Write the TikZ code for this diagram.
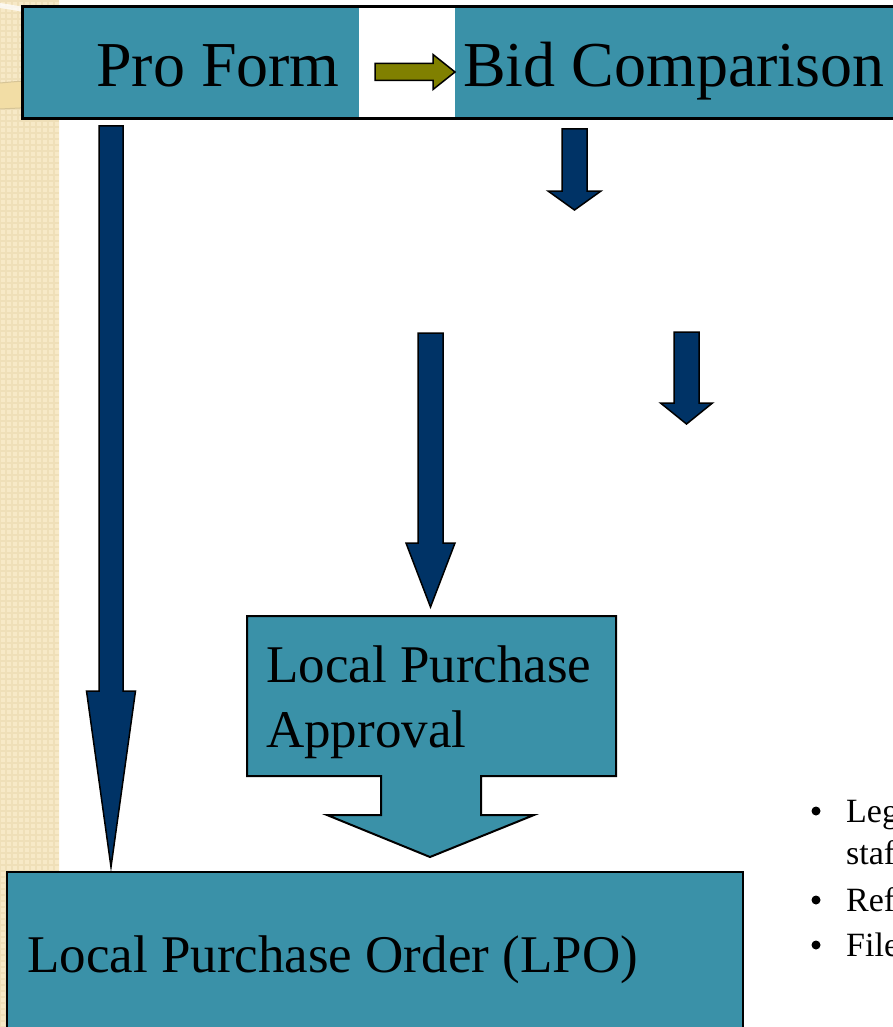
\documentclass[tikz,border=0pt]{standalone}
\usepackage{fontspec}
\setmainfont{Liberation Serif}
\usetikzlibrary{calc, patterns.meta}

\definecolor{tealbox}{RGB}{58,145,168}
\definecolor{navyarrow}{RGB}{0,51,102}
\definecolor{olivearrow}{RGB}{128,128,0}
\definecolor{stripbeige}{RGB}{247,233,199}
\definecolor{stripcheck}{RGB}{239,223,184}
\definecolor{bandbeige}{RGB}{242,221,165}
\definecolor{bandline}{RGB}{214,196,150}

\tikzset{
  blockarrow/.style={draw=black, line width=1.5pt, line join=miter, fill=navyarrow},
  bigtext/.style={anchor=base west, inner sep=0pt, font=\fontsize{64}{70}\selectfont},
  midtext/.style={anchor=base west, inner sep=0pt, font=\fontsize{53}{60}\selectfont},
  smalltext/.style={anchor=base west, inner sep=0pt, font=\fontsize{34}{40}\selectfont},
  bulletdot/.style={circle, fill=black, inner sep=0pt, minimum size=9pt},
}

% downward block arrow: start, tip, shaft half width, head half width, head length
\newcommand{\downblock}[5]{%
  \draw[blockarrow] let \p1=(#1), \p2=(#2) in
    (\x1-#3,\y1) -- (\x1+#3,\y1) -- (\x1+#3,\y2+#5) -- (\x1+#4,\y2+#5)
    -- (\x2,\y2) -- (\x1-#4,\y2+#5) -- (\x1-#3,\y2+#5) -- cycle;}

\begin{document}
\begin{tikzpicture}[x=1pt, y=-1pt]
    \useasboundingbox (0,0) rectangle (893,1027);
    \clip (0,0) rectangle (893,1027);

    % Beige side strip
    \fill[stripbeige] (0,0) rectangle (59,1027);
    \fill[pattern={Hatch[angle=0, distance=6pt, line width=1.4pt]}, pattern color=stripcheck] (0,0) rectangle (59,1027);
    \fill[bandbeige] (0,83) .. controls (20,81) and (40,80) .. (59,79) -- (59,106) .. controls (40,107) and (20,108) .. (0,109) -- cycle;
    \draw[bandline, line width=1pt] (0,83) .. controls (20,81) and (40,80) .. (59,79);
    \draw[bandline, line width=1pt] (0,109) .. controls (20,108) and (40,107) .. (59,106);
    \fill[white, opacity=0.75] (0,3) .. controls (20,6) and (40,10) .. (59,14) -- (59,19) .. controls (40,15) and (20,11) .. (0,8) -- cycle;

    % Top bar
    \fill[tealbox] (22,7) rectangle (359,119);
    \fill[white] (359,7) rectangle (455,119);
    \fill[tealbox] (455,7) rectangle (900,119);
    \draw[line width=3pt] (22,7) rectangle (900,119);

    % Arrow ends
    \coordinate (leftTop) at (111,126);
    \coordinate (leftTip) at (111,867);
    \coordinate (bidTop) at (574.5,129);
    \coordinate (bidTip) at (574.5,210);
    \coordinate (sideTop) at (686.5,332);
    \coordinate (sideTip) at (686.5,424);
    \coordinate (midTop) at (430.5,333);
    \coordinate (midTip) at (430.5,607);
    \coordinate (oliveStart) at (375,72);
    \coordinate (oliveTip) at (455,72);

    % Olive arrow between the two headings
    \draw[draw=black, line width=1.5pt, line join=miter, fill=olivearrow] let \p1=(oliveStart), \p2=(oliveTip) in
      (\x1,\y1+8.5pt) -- (\x2-22pt,\y1+8.5pt) -- (\x2-22pt,\y1+17.5pt) -- (\x2,\y2)
      -- (\x2-22pt,\y1-17.5pt) -- (\x2-22pt,\y1-8.5pt) -- (\x1,\y1-8.5pt) -- cycle;

    % Navy arrows
    \downblock{leftTop}{leftTip}{12pt}{24.5pt}{176pt}
    \downblock{bidTop}{bidTip}{12.5pt}{26.5pt}{19pt}
    \downblock{sideTop}{sideTip}{12.5pt}{26pt}{21pt}
    \downblock{midTop}{midTip}{12.5pt}{24.5pt}{64pt}

    % Approval callout
    \draw[fill=tealbox, line width=2pt, line join=miter]
      (247,616) -- (616,616) -- (616,776) -- (481,776) -- (481,815) -- (534,815)
      -- (430,857) -- (327,815) -- (381,815) -- (381,776) -- (247,776) -- cycle;

    % Order box
    \draw[fill=tealbox, line width=2pt] (7,872) rectangle (743,1040);

    % Texts
    \node[bigtext] (pro) at (96,87) {Pro Form};
    \node[bigtext] (bid) at (463,87) {Bid Comparison};
    \node[midtext] (lpa) at (266,682) {Local Purchase};
    \node[midtext] (lpb) at (266,747) {Approval};
    \node[midtext] (lpo) at (27,972) {Local Purchase Order (LPO)};

    % Bullet list at the right edge
    \node[bulletdot] (dotA) at (816,811) {};
    \node[smalltext] (itemA) at (846,822) {Leg};
    \node[smalltext] (itemAb) at (846,864) {staf};
    \node[bulletdot] (dotB) at (816,900) {};
    \node[smalltext] (itemB) at (846,911) {Ref};
    \node[bulletdot] (dotC) at (816,945) {};
    \node[smalltext] (itemC) at (846,956) {File};
\end{tikzpicture}
\end{document}
